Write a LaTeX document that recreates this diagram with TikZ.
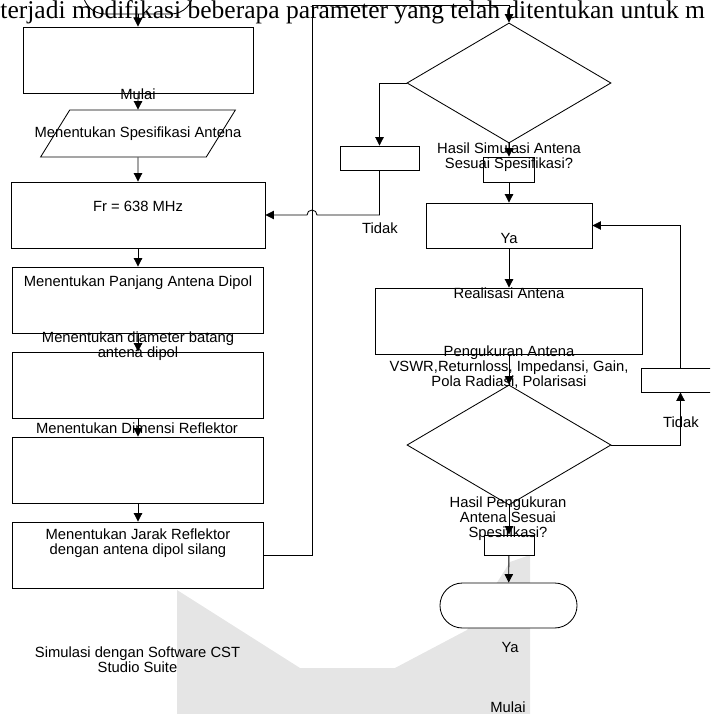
\documentclass[tikz,border=0pt]{standalone}
\usepackage{fontspec}
\setmainfont{Liberation Serif}
\setsansfont{Liberation Sans}
\usetikzlibrary{arrows.meta,shapes.geometric,shapes.misc}
\begin{document}
\begin{tikzpicture}[x=0.025cm,y=-0.025cm,line width=0.6pt,
    arr/.style={-{Triangle[width=6pt,length=6pt]}},
    box/.style={draw,fill=white,inner sep=0pt},
    lbl/.style={font=\sffamily\fontsize{10.5}{10.7}\selectfont,align=center,inner sep=0pt}]
\useasboundingbox (0,0) rectangle (710,714);
\clip (0,0) rectangle (710,714);
\fill[black!10] (177,714) -- (177,590) -- (300,668) -- (395,668) -- (467,630) -- (510,562) -- (530,555) -- (530,714) -- cycle;

\node[box,rounded rectangle,minimum width=2.75cm,minimum height=1.1cm] (start) at (138,-8) {};
\node[anchor=base west,inner sep=0pt,font=\fontsize{18.15}{20}\selectfont] (note) at (0,19) {terjadi modifikasi beberapa parameter yang telah ditentukan untuk m};

\node[box,minimum width=5.75cm,minimum height=1.65cm] (box1) at (138,60) {};
\node[box,xslant=0.62,minimum width=4.14cm,minimum height=1.175cm] (spec) at (138,133.5) {};
\node[box,minimum width=6.35cm,minimum height=1.65cm] (fr) at (138,215) {};
\node[box,minimum width=6.275cm,minimum height=1.65cm] (pjg) at (138,300) {};
\node[box,minimum width=6.275cm,minimum height=1.65cm] (diam) at (138,385) {};
\node[box,minimum width=6.275cm,minimum height=1.65cm] (refl) at (138,470) {};
\node[box,minimum width=6.275cm,minimum height=1.65cm] (jarak) at (138,555) {};

\node[box,diamond,minimum width=5.1cm,minimum height=3cm] (sim) at (509,83) {};
\node[box,minimum width=1.975cm,minimum height=0.6cm] (ulang) at (379.5,158) {};
\node[box,minimum width=1.275cm,minimum height=0.625cm] (ya1) at (509,169.5) {};
\node[box,minimum width=4.15cm,minimum height=1.125cm] (real) at (509,225.5) {};
\node[box,minimum width=6.675cm,minimum height=1.65cm] (ukur) at (509,321) {};
\node[box,diamond,minimum width=5.1cm,minimum height=3cm] (cek) at (509,445) {};
\node[box,minimum width=1.975cm,minimum height=0.6cm] (ulang2) at (680.5,380) {};
\node[box,minimum width=1.25cm,minimum height=0.5cm] (ya2) at (509,545) {};
\node[box,rounded rectangle,minimum width=3.425cm,minimum height=1.125cm] (stop) at (508.5,605.5) {};

\node[lbl] (tmulai) at (138,94) {Mulai};
\node[lbl] (tspec) at (138,134) {Menentukan Spesifikasi Antena};
\node[lbl] (tfr) at (138,206) {Fr = 638 MHz};
\node[lbl] (tpjg) at (138,283) {Menentukan Panjang Antena Dipol};
\node[lbl] (tdiam) at (138,346.5) {Menentukan diameter batang\\antena dipol};
\node[lbl] (trefl) at (137,428) {Menentukan Dimensi Reflektor};
\node[lbl] (tjarak) at (138,543.5) {Menentukan Jarak Reflektor\\dengan antena dipol silang};
\node[lbl] (tcst) at (137.5,660) {Simulasi dengan Software CST\\Studio Suite};

\node[lbl] (tsim) at (509,157) {Hasil Simulasi Antena\\Sesuai Spesifikasi?};
\node[lbl] (ttidak) at (380,228) {Tidak};
\node[lbl] (tya) at (509,238) {Ya};
\node[lbl] (treal) at (509,293) {Realisasi Antena};
\node[lbl] (tukur) at (509,367.5) {Pengukuran Antena\\VSWR,Returnloss, Impedansi, Gain,\\Pola Radiasi, Polarisasi};
\node[lbl] (tcek) at (508,519) {Hasil Pengukuran\\Antena Sesuai\\Spesifikasi?};
\node[lbl] (ttidak2) at (681,422) {Tidak};
\node[lbl] (tya2) at (510,647) {Ya};
\node[lbl] (tmulai2) at (508,707) {Mulai};

\coordinate (loop) at (312,5);
\coordinate (hop) at (317,215);
\draw[arr] (start) -- (box1);
\draw[arr] (box1) -- (spec);
\draw[arr] (spec) -- (fr);
\draw[arr] (fr) -- (pjg);
\draw[arr] (pjg) -- (diam);
\draw[arr] (diam) -- (refl);
\draw[arr] (refl) -- (jarak);
\draw[arr] (jarak.east) -| (loop) -| (sim.north);
\draw[arr] (sim.west) -| (ulang);
\draw[arr] (ulang) |- (hop) arc[start angle=0,end angle=180,radius=0.125cm] -- (fr.east);
\draw[arr] (sim) -- (ya1);
\draw[arr] (ya1) -- (real);
\draw[arr] (real) -- (ukur);
\draw[arr] (ukur) -- (cek);
\draw[arr] (cek.east) -| (ulang2);
\draw[arr] (ulang2) |- (real.east);
\draw[arr] (cek) -- (ya2);
\draw[arr] (ya2) -- (stop);
\end{tikzpicture}
\end{document}
